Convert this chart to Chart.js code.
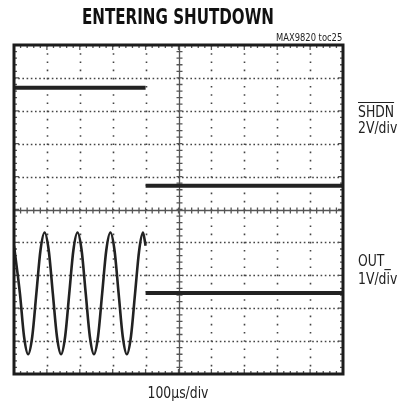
<!DOCTYPE html>
<html>
<head>
<meta charset="utf-8">
<script src="https://cdn.jsdelivr.net/npm/chart.js@4.4.1/dist/chart.umd.min.js"></script>
<style>
  html, body { margin: 0; padding: 0; background: #fff; }
  #wrap { position: relative; width: 409px; height: 406px; }
  .lbl { position: absolute; font-family: "DejaVu Sans Condensed", sans-serif; color: #222; white-space: nowrap; line-height: 1; }
  .side { left: 358px; font-size: 15px; transform: scaleX(0.92); transform-origin: left center; }
  #title { left: 0; width: 356px; top: 7px; text-align: center; font-weight: bold; font-size: 21px; color: #111; transform: scaleX(0.8); }
  #toc { right: 67px; top: 33px; font-size: 10px; transform: scaleX(0.93); transform-origin: right center; }
  #shdn { top: 105px; text-decoration: overline; }
  #shdnScale { top: 121px; }
  #out { top: 254px; }
  #outScale { top: 272px; }
  #timebase { left: 0; width: 356px; top: 386px; text-align: center; font-size: 15px; transform: scaleX(0.92); }
</style>
</head>
<body>
<div id="wrap">
  <canvas id="scope" width="409" height="406"></canvas>
  <div class="lbl" id="title">ENTERING SHUTDOWN</div>
  <div class="lbl" id="toc">MAX9820 toc25</div>
  <div class="lbl side" id="shdn">SHDN</div>
  <div class="lbl side" id="shdnScale">2V/div</div>
  <div class="lbl side" id="out">OUT_</div>
  <div class="lbl side" id="outScale">1V/div</div>
  <div class="lbl" id="timebase">100µs/div</div>
</div>
<script>
const divisions = [0, 1, 2, 3, 4, 5, 6, 7, 8, 9, 10];

// SHDN trace (top channel), null = no line drawn during the edge
const shdnTime = [0, 4.0, 4.0, 4.0, 10];
const shdnLevel = [8.7, 8.7, null, 5.72, 5.72];

// OUT_ trace while running (sine burst)
const outTime = [0, 0.18, 0.305, 0.43, 0.555, 0.68, 0.805, 0.93, 1.055, 1.18, 1.305, 1.43, 1.555, 1.68, 1.805, 1.93,
  2.055, 2.18, 2.305, 2.43, 2.555, 2.68, 2.805, 2.93, 3.055, 3.18, 3.305, 3.43, 3.555, 3.68, 3.805, 3.92, 4.0];
const outLevel = [3.9, 2.45, 1.14, 0.6, 1.14, 2.45, 3.76, 4.3, 3.76, 2.45, 1.14, 0.6, 1.14, 2.45, 3.76, 4.3,
  3.76, 2.45, 1.14, 0.6, 1.14, 2.45, 3.76, 4.3, 3.76, 2.45, 1.14, 0.6, 1.14, 2.45, 3.76, 4.3, 3.9];

// OUT_ after shutdown
const offTime = [4.0, 10];
const offLevel = [2.46, 2.46];

const traceColor = "#222";

function pts(xs, ys) {
  return xs.map((t, i) => ({ x: t, y: ys[i] }));
}

const graticule = {
  id: "graticule",
  beforeDatasetsDraw(chart) {
    const { ctx, chartArea: a, scales: { x, y } } = chart;
    ctx.save();
    ctx.strokeStyle = "#444";
    ctx.lineWidth = 1.6;

    // dotted division lines
    divisions.forEach(d => {
      if (d === 0 || d === 5 || d === 10) return;
      const px = Math.round(x.getPixelForValue(d)) + 0.5;
      ctx.setLineDash([1.6, 6.6]);
      ctx.beginPath(); ctx.moveTo(px, a.top); ctx.lineTo(px, a.bottom); ctx.stroke();
      const py = Math.round(y.getPixelForValue(d)) + 0.5;
      ctx.setLineDash([1.6, 2.6]);
      ctx.beginPath(); ctx.moveTo(a.left, py); ctx.lineTo(a.right, py); ctx.stroke();
    });
    ctx.setLineDash([]);

    // centre cross with fifth-division ticks
    const cx = Math.round(x.getPixelForValue(5)) + 0.5;
    const cy = Math.round(y.getPixelForValue(5)) + 0.5;
    ctx.strokeStyle = "#555";
    ctx.lineWidth = 1.3;
    ctx.beginPath();
    ctx.moveTo(cx, a.top); ctx.lineTo(cx, a.bottom);
    ctx.moveTo(a.left, cy); ctx.lineTo(a.right, cy);
    for (let i = 0; i <= 50; i++) {
      const v = i / 5;
      const px = x.getPixelForValue(v), py = y.getPixelForValue(v);
      ctx.moveTo(px, cy - 3); ctx.lineTo(px, cy + 3);
      ctx.moveTo(cx - 3, py); ctx.lineTo(cx + 3, py);
      // ticks along the frame
      const len = i % 5 === 0 ? 5 : 3;
      ctx.moveTo(px, a.top); ctx.lineTo(px, a.top + len);
      ctx.moveTo(px, a.bottom); ctx.lineTo(px, a.bottom - len);
      ctx.moveTo(a.left, py); ctx.lineTo(a.left + len, py);
      ctx.moveTo(a.right, py); ctx.lineTo(a.right - len, py);
    }
    ctx.stroke();
    ctx.restore();
  },
  afterDatasetsDraw(chart) {
    const { ctx, chartArea: a } = chart;
    ctx.save();
    ctx.strokeStyle = "#1c1c1c";
    ctx.lineWidth = 3;
    ctx.strokeRect(a.left, a.top, a.right - a.left, a.bottom - a.top);
    ctx.restore();
  }
};

new Chart(document.getElementById("scope"), {
  type: "line",
  data: {
    datasets: [
      {
        label: "SHDN",
        data: pts(shdnTime, shdnLevel),
        borderColor: traceColor,
        borderWidth: 4,
        pointRadius: 0,
        tension: 0,
      },
      {
        label: "OUT_",
        data: pts(outTime, outLevel),
        borderColor: traceColor,
        borderWidth: 2.6,
        pointRadius: 0,
        cubicInterpolationMode: "monotone",
      },
      {
        label: "OUT_ off",
        data: pts(offTime, offLevel),
        borderColor: traceColor,
        borderWidth: 4,
        pointRadius: 0,
        tension: 0,
      },
    ],
  },
  options: {
    responsive: false,
    animation: false,
    devicePixelRatio: 1,
    layout: { padding: { left: 14, right: 66, top: 45, bottom: 32 } },
    plugins: { legend: { display: false }, tooltip: { enabled: false } },
    scales: {
      x: { type: "linear", min: 0, max: 10, display: false },
      y: { type: "linear", min: 0, max: 10, display: false },
    },
  },
  plugins: [graticule],
});
</script>
</body>
</html>
